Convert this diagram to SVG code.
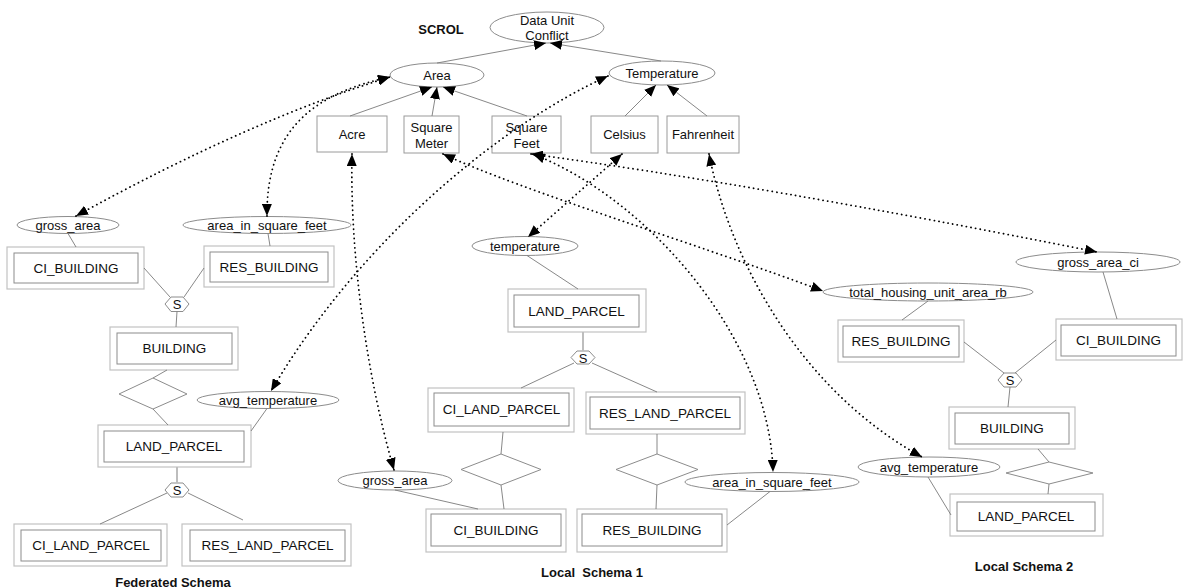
<svg xmlns="http://www.w3.org/2000/svg" width="1185" height="588" viewBox="0 0 1185 588">
  <defs>
    <style>
      .lbl { font-family: "Liberation Sans", Arial, sans-serif; font-size: 13px; fill: #111; text-anchor: middle; dominant-baseline: central; }
      .ent { font-size: 13.5px; }
      .title { font-family: "Liberation Sans", Arial, sans-serif; font-size: 13px; font-weight: bold; fill: #111; text-anchor: middle; dominant-baseline: central; white-space: pre; }
      .outer { fill: #fff; stroke: #c2c2c2; stroke-width: 1.2; }
      .inner { fill: #fff; stroke: #8c8c8c; stroke-width: 1; }
      .attr { fill: #fff; stroke: #8c8c8c; stroke-width: 1; }
      .unit { fill: #fff; stroke: #9a9a9a; stroke-width: 1; }
      .rel { fill: #fff; stroke: #8c8c8c; stroke-width: 1; }
      .line { fill: none; stroke: #7a7a7a; stroke-width: 0.9; }
      .thick { fill: none; stroke: #bdbdbd; stroke-width: 2; }
      .isa { fill: none; stroke: #7a7a7a; stroke-width: 0.9; marker-end: url(#solidHead); }
      .map { fill: none; stroke: #000; stroke-width: 1.8; stroke-dasharray: 0.1 4.6; stroke-linecap: round; marker-start: url(#dotHead); marker-end: url(#dotHead); }
    </style>
    <marker id="solidHead" viewBox="0 0 12 10" refX="12" refY="5" markerWidth="12" markerHeight="10" markerUnits="userSpaceOnUse" orient="auto">
      <path d="M0,0 L12,5 L0,10 z" fill="#000"/>
    </marker>
    <marker id="dotHead" viewBox="0 0 12 10" refX="12" refY="5" markerWidth="12" markerHeight="10" markerUnits="userSpaceOnUse" orient="auto-start-reverse">
      <path d="M0,0 L12,5 L0,10 z" fill="#000"/>
    </marker>
  </defs>

  <rect width="1185" height="588" fill="#fff"/>

  <!-- SCROL conflict hierarchy -->
  <text class="title" x="441" y="29">SCROL</text>
  <g id="data-unit-conflict">
    <ellipse class="attr" cx="547" cy="27.5" rx="57" ry="15.5"/>
    <text class="lbl" x="547" y="20">Data Unit</text>
    <text class="lbl" x="547" y="35">Conflict</text>
  </g>
  <g id="area">
    <ellipse class="attr" cx="437" cy="75" rx="47" ry="12"/>
    <text class="lbl" x="437" y="75">Area</text>
  </g>
  <g id="temperature">
    <ellipse class="attr" cx="662" cy="73" rx="53" ry="12"/>
    <text class="lbl" x="662" y="73">Temperature</text>
  </g>
  <g id="acre">
    <rect class="unit" x="317" y="116" width="70" height="36"/>
    <text class="lbl" x="352" y="134">Acre</text>
  </g>
  <g id="square-meter">
    <rect class="unit" x="404" y="116" width="55" height="37"/>
    <text class="lbl" x="431.5" y="127">Square</text>
    <text class="lbl" x="431.5" y="143">Meter</text>
  </g>
  <g id="square-feet">
    <rect class="unit" x="492" y="116" width="69" height="37"/>
    <text class="lbl" x="526.5" y="127">Square</text>
    <text class="lbl" x="526.5" y="143">Feet</text>
  </g>
  <g id="celsius">
    <rect class="unit" x="591" y="116" width="67" height="37"/>
    <text class="lbl" x="624.5" y="134">Celsius</text>
  </g>
  <g id="fahrenheit">
    <rect class="unit" x="667" y="116" width="72" height="37"/>
    <text class="lbl" x="703" y="134">Fahrenheit</text>
  </g>

  <!-- Federated schema -->
  <g id="fed-gross-area">
    <ellipse class="attr" cx="68" cy="225" rx="51" ry="8.5"/>
    <text class="lbl" x="68" y="225">gross_area</text>
  </g>
  <g id="fed-area-in-square-feet">
    <ellipse class="attr" cx="267" cy="225" rx="84" ry="8.5"/>
    <text class="lbl" x="267" y="225">area_in_square_feet</text>
  </g>
  <g id="fed-ci-building">
    <rect class="outer" x="7" y="247" width="137" height="42"/>
    <rect class="inner" x="14" y="253" width="124" height="30"/>
    <text class="lbl ent" x="76" y="268">CI_BUILDING</text>
  </g>
  <g id="fed-res-building">
    <rect class="outer" x="204" y="246" width="130" height="41"/>
    <rect class="inner" x="210" y="252" width="118" height="30"/>
    <text class="lbl ent" x="269" y="267">RES_BUILDING</text>
  </g>
  <g id="fed-s-building">
    <polygon class="rel" points="165,304 171,297 183,297 189,304 183,311.5 171,311.5"/>
    <text class="lbl" x="177" y="304.5">S</text>
  </g>
  <g id="fed-building">
    <rect class="outer" x="110" y="327" width="128" height="43"/>
    <rect class="inner" x="117" y="333" width="115" height="31"/>
    <text class="lbl ent" x="174.5" y="348.5">BUILDING</text>
  </g>
  <g id="fed-rel">
    <polygon class="rel" points="153,378 187,394 153,409 119,394"/>
  </g>
  <g id="fed-avg-temperature">
    <ellipse class="attr" cx="268" cy="400" rx="71" ry="8.5"/>
    <text class="lbl" x="268" y="400">avg_temperature</text>
  </g>
  <g id="fed-land-parcel">
    <rect class="outer" x="98" y="425" width="153" height="42"/>
    <rect class="inner" x="104" y="431" width="140" height="31"/>
    <text class="lbl ent" x="174" y="446.5">LAND_PARCEL</text>
  </g>
  <g id="fed-s-parcel">
    <polygon class="rel" points="165,490 171,483 183,483 189,490 183,497 171,497"/>
    <text class="lbl" x="177" y="490.5">S</text>
  </g>
  <g id="fed-ci-land-parcel">
    <rect class="outer" x="14" y="524" width="153" height="42"/>
    <rect class="inner" x="21" y="530" width="140" height="31"/>
    <text class="lbl ent" x="91" y="545.5">CI_LAND_PARCEL</text>
  </g>
  <g id="fed-res-land-parcel">
    <rect class="outer" x="182" y="524" width="169" height="42"/>
    <rect class="inner" x="190" y="530" width="155" height="31"/>
    <text class="lbl ent" x="267.5" y="545.5">RES_LAND_PARCEL</text>
  </g>
  <text class="title" x="173" y="582">Federated Schema</text>

  <!-- Local schema 1 -->
  <g id="ls1-temperature">
    <ellipse class="attr" cx="525" cy="246" rx="53" ry="9.5"/>
    <text class="lbl" x="525" y="246">temperature</text>
  </g>
  <g id="ls1-land-parcel">
    <rect class="outer" x="508" y="289" width="138" height="43"/>
    <rect class="inner" x="514" y="295" width="125" height="32"/>
    <text class="lbl ent" x="576.5" y="311">LAND_PARCEL</text>
  </g>
  <g id="ls1-s">
    <polygon class="rel" points="571,357.5 577,351 589,351 595,357.5 589,364 577,364"/>
    <text class="lbl" x="583" y="358">S</text>
  </g>
  <g id="ls1-ci-land-parcel">
    <rect class="outer" x="428" y="388" width="146" height="44"/>
    <rect class="inner" x="434" y="393" width="135" height="33"/>
    <text class="lbl ent" x="501.5" y="409.5">CI_LAND_PARCEL</text>
  </g>
  <g id="ls1-res-land-parcel">
    <rect class="outer" x="586" y="392" width="159" height="42"/>
    <rect class="inner" x="590" y="397" width="150" height="32"/>
    <text class="lbl ent" x="665" y="413">RES_LAND_PARCEL</text>
  </g>
  <g id="ls1-rel-ci">
    <polygon class="rel" points="501,454 541,469.5 501,485 461,469.5"/>
  </g>
  <g id="ls1-rel-res">
    <polygon class="rel" points="657,454 698,469.5 657,485 616,469.5"/>
  </g>
  <g id="ls1-gross-area">
    <ellipse class="attr" cx="395" cy="480.5" rx="57" ry="9.5"/>
    <text class="lbl" x="395" y="480.5">gross_area</text>
  </g>
  <g id="ls1-area-in-square-feet">
    <ellipse class="attr" cx="772" cy="482" rx="87" ry="9.5"/>
    <text class="lbl" x="772" y="482">area_in_square_feet</text>
  </g>
  <g id="ls1-ci-building">
    <rect class="outer" x="426" y="509" width="140" height="43"/>
    <rect class="inner" x="431" y="514" width="130" height="32"/>
    <text class="lbl ent" x="496" y="530">CI_BUILDING</text>
  </g>
  <g id="ls1-res-building">
    <rect class="outer" x="577" y="509" width="150" height="43"/>
    <rect class="inner" x="582" y="514" width="140" height="32"/>
    <text class="lbl ent" x="652" y="530">RES_BUILDING</text>
  </g>
  <text class="title" x="592" y="572">Local  Schema 1</text>

  <!-- Local schema 2 -->
  <g id="ls2-gross-area-ci">
    <ellipse class="attr" cx="1098" cy="262" rx="82" ry="10"/>
    <text class="lbl" x="1098" y="262">gross_area_ci</text>
  </g>
  <g id="ls2-total-housing-unit-area-rb">
    <ellipse class="attr" cx="928" cy="292" rx="105" ry="9"/>
    <text class="lbl" x="928" y="292">total_housing_unit_area_rb</text>
  </g>
  <g id="ls2-res-building">
    <rect class="outer" x="838" y="320" width="126" height="42"/>
    <rect class="inner" x="843" y="326" width="116" height="31"/>
    <text class="lbl ent" x="901" y="341.5">RES_BUILDING</text>
  </g>
  <g id="ls2-ci-building">
    <rect class="outer" x="1056" y="319" width="126" height="41"/>
    <rect class="inner" x="1061" y="325" width="115" height="31"/>
    <text class="lbl ent" x="1118.5" y="340">CI_BUILDING</text>
  </g>
  <g id="ls2-s">
    <polygon class="rel" points="998,380 1004,373 1016,373 1022,380 1016,387 1004,387"/>
    <text class="lbl" x="1010" y="380.5">S</text>
  </g>
  <g id="ls2-building">
    <rect class="outer" x="949" y="407" width="126" height="42"/>
    <rect class="inner" x="955" y="413" width="114" height="31"/>
    <text class="lbl ent" x="1012" y="428.5">BUILDING</text>
  </g>
  <g id="ls2-rel">
    <polygon class="rel" points="1049,462 1093,473 1049,484 1006,473"/>
  </g>
  <g id="ls2-avg-temperature">
    <ellipse class="attr" cx="929" cy="467" rx="71" ry="10"/>
    <text class="lbl" x="929" y="467">avg_temperature</text>
  </g>
  <g id="ls2-land-parcel">
    <rect class="outer" x="950" y="494" width="153" height="42"/>
    <rect class="inner" x="957" y="502" width="138" height="29"/>
    <text class="lbl ent" x="1026" y="516.5">LAND_PARCEL</text>
  </g>
  <text class="title" x="1024" y="566">Local Schema 2</text>

  <g id="connectors">
    <!-- generalisation links of the conflict hierarchy -->
    <line class="isa" x1="437" y1="63" x2="546" y2="43"/>
    <line class="isa" x1="661" y1="61" x2="550" y2="43"/>
    <line class="isa" x1="350" y1="116" x2="432" y2="87"/>
    <line class="isa" x1="432" y1="116" x2="437" y2="87"/>
    <line class="isa" x1="527" y1="116" x2="443" y2="87"/>
    <line class="isa" x1="625" y1="116" x2="656" y2="85"/>
    <line class="isa" x1="707" y1="116" x2="667" y2="85"/>

    <!-- federated schema links -->
    <line class="line" x1="68" y1="233.5" x2="76" y2="247"/>
    <line class="line" x1="268" y1="233.5" x2="270" y2="246"/>
    <line class="line" x1="144" y1="268" x2="170" y2="297"/>
    <line class="line" x1="204" y1="268" x2="184" y2="297"/>
    <line class="line" x1="177" y1="311.5" x2="176" y2="327"/>
    <line class="line" x1="167" y1="370" x2="153" y2="378"/>
    <line class="line" x1="153" y1="409" x2="168" y2="425"/>
    <line class="line" x1="267" y1="408.5" x2="251" y2="431"/>
    <line class="thick" x1="177" y1="467" x2="177" y2="483"/>
    <line class="line" x1="167" y1="493" x2="100" y2="524"/>
    <line class="line" x1="188" y1="493" x2="243" y2="520"/>

    <!-- local schema 1 links -->
    <line class="line" x1="527" y1="255.5" x2="578" y2="289"/>
    <line class="thick" x1="583" y1="332" x2="583" y2="351"/>
    <line class="line" x1="574" y1="363" x2="521" y2="388"/>
    <line class="line" x1="592" y1="363" x2="657" y2="392"/>
    <line class="line" x1="503" y1="432" x2="501" y2="454"/>
    <line class="line" x1="501" y1="485" x2="504" y2="509"/>
    <line class="line" x1="657" y1="434" x2="657" y2="454"/>
    <line class="line" x1="657" y1="485" x2="656" y2="509"/>
    <line class="line" x1="395" y1="490" x2="478" y2="509"/>
    <line class="line" x1="770" y1="491.5" x2="727" y2="525"/>

    <!-- local schema 2 links -->
    <line class="line" x1="1103" y1="272" x2="1117" y2="319"/>
    <line class="line" x1="928" y1="301" x2="902" y2="320"/>
    <line class="line" x1="964" y1="342" x2="1004" y2="373"/>
    <line class="line" x1="1056" y1="340" x2="1015" y2="373"/>
    <line class="line" x1="1010" y1="387" x2="1008" y2="407"/>
    <line class="line" x1="1038" y1="449" x2="1049" y2="462"/>
    <line class="line" x1="1049" y1="484" x2="1048" y2="494"/>
    <line class="line" x1="928" y1="477" x2="951" y2="515"/>

    <!-- unit mappings between schema attributes and SCROL -->
    <path class="map" d="M76,216 Q250,120 390,77"/>
    <path class="map" d="M267,216 C266,125 320,92 390,77"/>
    <path class="map" d="M352,154 C350,250 365,370 394,470"/>
    <path class="map" d="M608,76 C500,125 360,240 271,391"/>
    <path class="map" d="M622,154 L528,237"/>
    <path class="map" d="M443,154 C520,190 700,245 823,291"/>
    <path class="map" d="M531,154 Q760,185 1097,252"/>
    <path class="map" d="M533,154 C650,200 770,340 773,472"/>
    <path class="map" d="M709,154 C730,260 800,390 922,457"/>
  </g>
</svg>
